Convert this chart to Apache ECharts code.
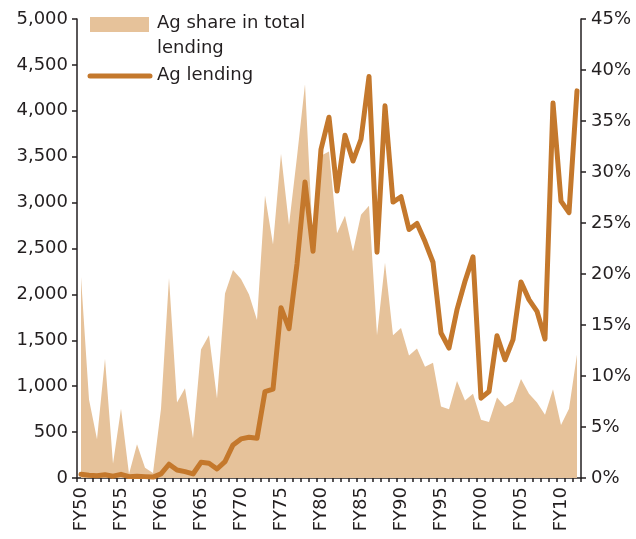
<!DOCTYPE html>
<html>
<head>
<meta charset="utf-8">
<script src="https://cdn.jsdelivr.net/npm/echarts@6/dist/echarts.min.js"></script>
<style>
  html, body { margin: 0; padding: 0; background: #fff; }
  #main { width: 636px; height: 539px; }
</style>
</head>
<body>
<div id="main"></div>
<script>
// fiscal years FY50 .. FY12
const years = [
  'FY50', 'FY51', 'FY52', 'FY53', 'FY54', 'FY55', 'FY56', 'FY57', 'FY58', 'FY59',
  'FY60', 'FY61', 'FY62', 'FY63', 'FY64', 'FY65', 'FY66', 'FY67', 'FY68', 'FY69',
  'FY70', 'FY71', 'FY72', 'FY73', 'FY74', 'FY75', 'FY76', 'FY77', 'FY78', 'FY79',
  'FY80', 'FY81', 'FY82', 'FY83', 'FY84', 'FY85', 'FY86', 'FY87', 'FY88', 'FY89',
  'FY90', 'FY91', 'FY92', 'FY93', 'FY94', 'FY95', 'FY96', 'FY97', 'FY98', 'FY99',
  'FY00', 'FY01', 'FY02', 'FY03', 'FY04', 'FY05', 'FY06', 'FY07', 'FY08', 'FY09',
  'FY10', 'FY11', 'FY12'
]

// Ag share in total lending (%), right axis
const agShare = [
  19.7, 7.7, 3.8, 11.7, 1.4, 6.8, 0.4, 3.3, 1.0, 0.5,
  6.8, 19.6, 7.4, 8.8, 3.9, 12.6, 14.0, 7.8, 18.1, 20.4,
  19.5, 18.0, 15.5, 27.7, 22.9, 31.8, 24.8, 31.5, 38.6, 23.0,
  31.6, 32.0, 24.0, 25.7, 22.2, 25.8, 26.7, 14.0, 21.1, 14.0,
  14.7, 12.0, 12.7, 10.9, 11.3, 7.0, 6.75, 9.5, 7.6, 8.25,
  5.7, 5.5, 7.9, 7.0, 7.5, 9.7, 8.25, 7.4, 6.2, 8.7,
  5.2, 6.8, 12.1
]

// Ag lending, left axis
const agLending = [
  40, 30, 25, 35, 20, 40, 15, 20, 15, 10,
  45, 150, 87, 69, 44, 171, 160, 98, 178, 360,
  426, 444, 433, 942, 968, 1855, 1627, 2330, 3224, 2470,
  3581, 3930, 3126, 3734, 3453, 3690, 4374, 2460, 4054, 3006,
  3064, 2707, 2773, 2575, 2350, 1580, 1416, 1834, 2143, 2409,
  870, 942, 1550, 1288, 1507, 2136, 1943, 1816, 1514, 4085,
  3016, 2890, 4217
]

const leftTicks = { min: 0, max: 5000, interval: 500 }
const rightTicks = { min: 0, max: 45, interval: 5 }

const areaColor = '#E6C29A'
const lineColor = '#C4782C'
const textColor = '#231F20'
const font = '"DejaVu Sans", sans-serif'

const chart = echarts.init(document.getElementById('main'))

const axisLine = { show: true, lineStyle: { color: textColor, width: 1.5 } }
const axisTick = { show: true, length: 5, lineStyle: { color: textColor, width: 1.5 } }

const option = {
  animation: false,
  backgroundColor: '#fff',
  grid: {
    left: 77,
    right: 55,
    top: 19,
    bottom: 61,
    outerBoundsMode: 'none'
  },
  xAxis: {
    type: 'category',
    data: years,
    boundaryGap: true,
    axisLine: axisLine,
    axisTick: { show: true, length: 4, interval: 0, lineStyle: { color: textColor, width: 1.5 } },
    axisLabel: {
      interval: 4, // every fifth year
      rotate: 90,
      hideOverlap: false,
      margin: 9,
      color: textColor,
      fontSize: 18,
      fontFamily: font
    },
    splitLine: { show: false }
  },
  yAxis: [
    {
      type: 'value',
      position: 'left',
      min: leftTicks.min,
      max: leftTicks.max,
      interval: leftTicks.interval,
      axisLine: axisLine,
      axisTick: axisTick,
      splitLine: { show: false },
      axisLabel: {
        margin: 9,
        color: textColor,
        fontSize: 18,
        fontFamily: font,
        formatter: (v) => v.toLocaleString('en-US')
      }
    },
    {
      type: 'value',
      position: 'right',
      min: rightTicks.min,
      max: rightTicks.max,
      interval: rightTicks.interval,
      axisLine: axisLine,
      axisTick: axisTick,
      splitLine: { show: false },
      axisLabel: {
        margin: 10,
        color: textColor,
        fontSize: 18,
        fontFamily: font,
        formatter: '{value}%'
      }
    }
  ],
  // legend drawn by hand: the swatch sits on the first line of the wrapped label
  graphic: [
    {
      type: 'rect',
      shape: { x: 90, y: 17, width: 59, height: 15 },
      style: { fill: areaColor }
    },
    {
      type: 'text',
      style: { text: 'Ag share in total', x: 157, y: 23, fill: textColor, font: '18px ' + font, verticalAlign: 'middle' }
    },
    {
      type: 'text',
      style: { text: 'lending', x: 157, y: 48, fill: textColor, font: '18px ' + font, verticalAlign: 'middle' }
    },
    {
      type: 'line',
      shape: { x1: 90, y1: 76, x2: 150, y2: 76 },
      style: { stroke: lineColor, lineWidth: 5, lineCap: 'round' }
    },
    {
      type: 'text',
      style: { text: 'Ag lending', x: 157, y: 75, fill: textColor, font: '18px ' + font, verticalAlign: 'middle' }
    }
  ],
  series: [
    {
      name: 'Ag share in total lending',
      type: 'line',
      yAxisIndex: 1,
      data: agShare,
      symbol: 'none',
      lineStyle: { width: 0 },
      areaStyle: { color: areaColor, opacity: 1 },
      z: 1
    },
    {
      name: 'Ag lending',
      type: 'line',
      yAxisIndex: 0,
      data: agLending,
      symbol: 'none',
      lineStyle: { width: 5, color: lineColor, join: 'round', cap: 'round' },
      z: 2
    }
  ]
}

chart.setOption(option)
</script>
</body>
</html>
